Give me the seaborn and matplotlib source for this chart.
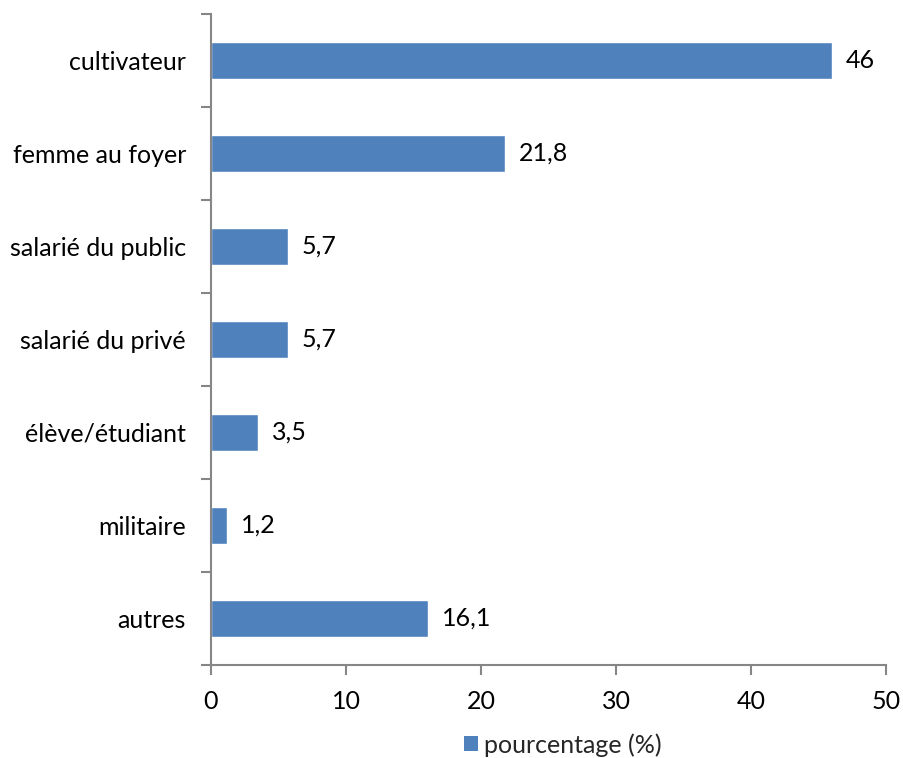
import matplotlib
matplotlib.use("Agg")
import matplotlib.pyplot as plt
import seaborn as sns
import pandas as pd
from matplotlib.patches import Patch
from matplotlib.ticker import FixedLocator

categories = ["cultivateur", "femme au foyer", "salarié du public", "salarié du privé",
              "élève/étudiant", "militaire", "autres"]
values = [46, 21.8, 5.7, 5.7, 3.5, 1.2, 16.1]
series_name = "pourcentage (%)"
x_ticks = [0, 10, 20, 30, 40, 50]

sns.set_theme(style="white")
plt.rcParams["font.family"] = ["Lato", "DejaVu Sans"]

df = pd.DataFrame({"profession": categories, "pct": values})

bar_color = "#4F81BD"
axis_color = "#868686"
fs = 18

fig = plt.figure(figsize=(9.04, 7.58), dpi=100)
ax = fig.add_axes([211 / 904, 93 / 758, 675 / 904, 651 / 758])

sns.barplot(data=df, x="pct", y="profession", orient="h", color=bar_color,
            width=0.4, saturation=1, ax=ax)

ax.set_xlim(0, 50)
ax.set_ylim(len(categories) - 0.5, -0.5)
ax.set_xticks(x_ticks)
ax.set_xticklabels([str(t) for t in x_ticks], fontsize=fs, color="black")
ax.set_xlabel("")
ax.set_ylabel("")

# category labels without tick marks; tick marks sit between categories
ax.set_yticks(range(len(categories)))
ax.set_yticklabels(categories, fontsize=fs, color="black")
ax.tick_params(axis="y", which="major", length=0, pad=18)
ax.yaxis.set_minor_locator(FixedLocator([i - 0.5 for i in range(len(categories) + 1)]))
ax.tick_params(axis="y", which="minor", left=True, length=7, width=1.5, color=axis_color)
ax.tick_params(axis="x", which="major", bottom=True, length=7, width=1.5,
               color=axis_color, pad=11)

for side in ["top", "right"]:
    ax.spines[side].set_visible(False)
for side in ["left", "bottom"]:
    ax.spines[side].set_color(axis_color)
    ax.spines[side].set_linewidth(1.5)

for container in ax.containers:
    ax.bar_label(container, labels=[f"{v:g}".replace(".", ",") for v in values],
                 padding=10, fontsize=fs, color="black")

handles = [Patch(facecolor=bar_color, edgecolor="none", label=series_name)]
fig.legend(handles=handles, loc="center", bbox_to_anchor=(563 / 904, 1 - 745 / 758),
           frameon=False, fontsize=fs, handlelength=0.55, handleheight=0.55,
           handletextpad=0.25)

fig.savefig("out.png", dpi=100)
